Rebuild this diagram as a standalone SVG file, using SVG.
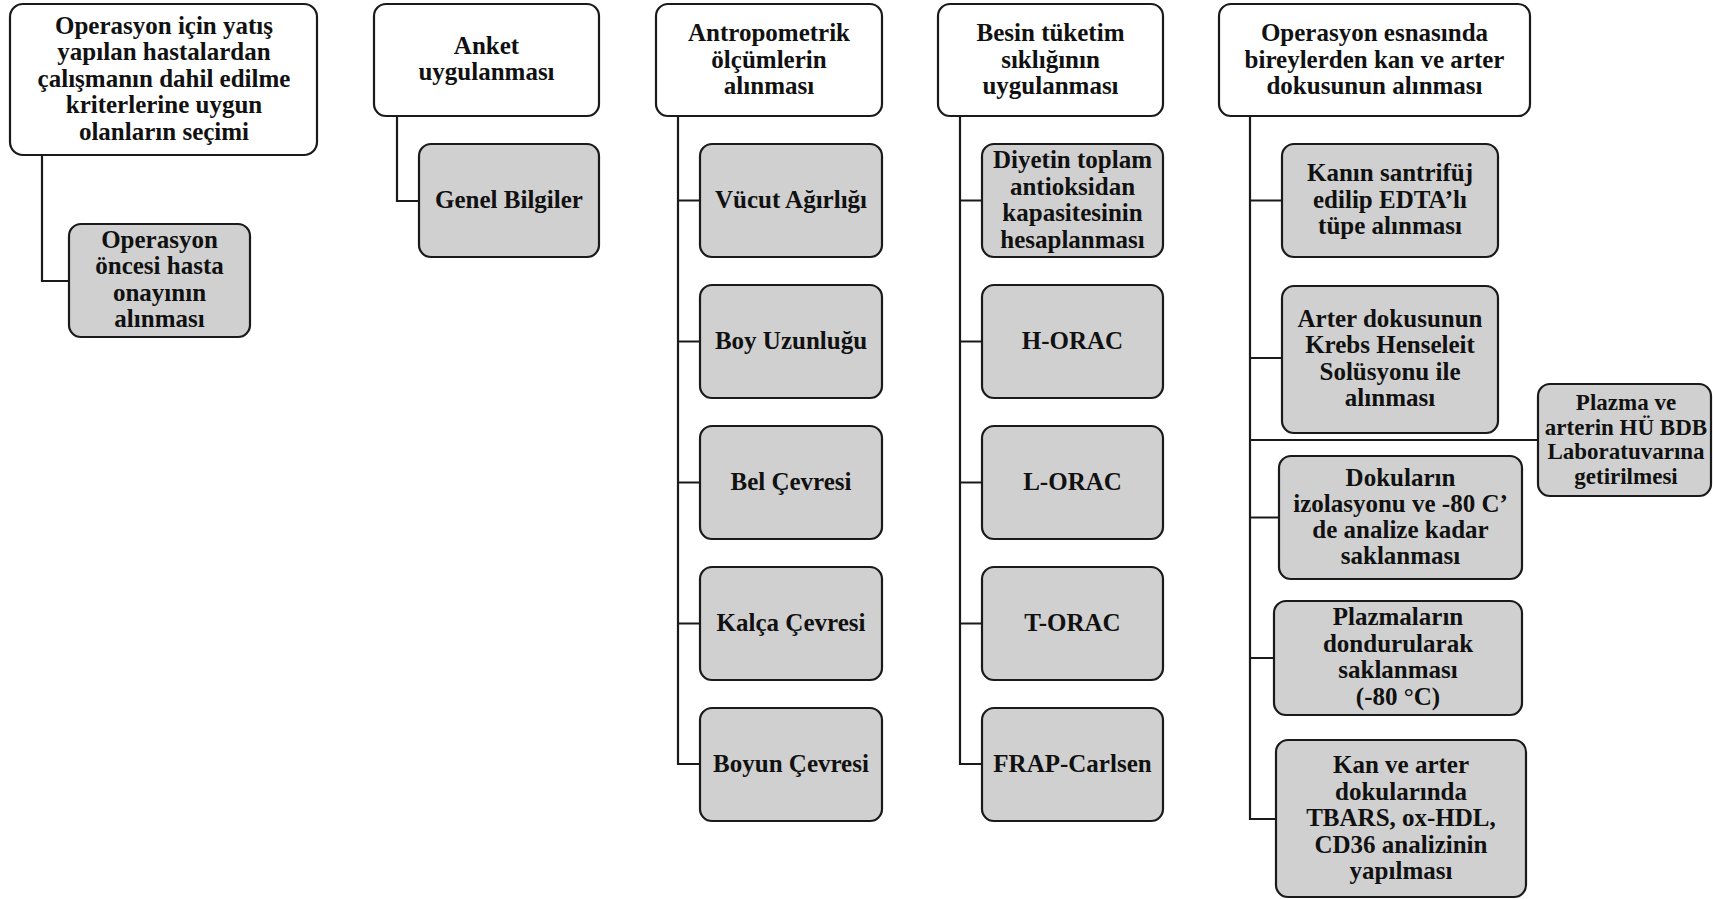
<svg xmlns="http://www.w3.org/2000/svg" width="1713" height="899" viewBox="0 0 1713 899">
<style>
.h{fill:#ffffff;stroke:#1a1a1a;stroke-width:2.2}
.c{fill:#d0d0d0;stroke:#1a1a1a;stroke-width:2.2}
text{font-family:"Liberation Serif","Times New Roman",serif;font-weight:bold;font-size:25px;fill:#111;text-anchor:middle}
.s{font-size:23px}
.ln{fill:none;stroke:#1a1a1a;stroke-width:2.2}
</style>
<rect width="1713" height="899" fill="#ffffff"/>
<g id="connectors">
<path class="ln" d="M42,155 V281 H69"/>
<path class="ln" d="M397,116 V201 H419"/>
<path class="ln" d="M678,116 V764 H700 M678,200.5 H700 M678,341.5 H700 M678,482.5 H700 M678,623.5 H700"/>
<path class="ln" d="M960,116 V764 H982 M960,200.5 H982 M960,341.5 H982 M960,482.5 H982 M960,623.5 H982"/>
<path class="ln" d="M1250,116 V819 H1276 M1250,200.5 H1282 M1250,358 H1282 M1250,440 H1538 M1250,517.5 H1279 M1250,658 H1274"/>
</g>
<g id="n1">
<rect class="h" x="10" y="4" width="307" height="151" rx="13"/>
<text x="164" y="33.5">Operasyon için yatış</text>
<text x="164" y="60">yapılan hastalardan</text>
<text x="164" y="86.5">çalışmanın dahil edilme</text>
<text x="164" y="113">kriterlerine uygun</text>
<text x="164" y="139.5">olanların seçimi</text>
</g>
<g id="n1a">
<rect class="c" x="69" y="224" width="181" height="113" rx="12"/>
<text x="159.5" y="247.5">Operasyon</text>
<text x="159.5" y="274">öncesi hasta</text>
<text x="159.5" y="300.5">onayının</text>
<text x="159.5" y="327">alınması</text>
</g>
<g id="n2">
<rect class="h" x="374" y="4" width="225" height="112" rx="12"/>
<text x="486.5" y="53.8">Anket</text>
<text x="486.5" y="80.3">uygulanması</text>
</g>
<g id="n2a">
<rect class="c" x="419" y="144" width="180" height="113" rx="12"/>
<text x="509" y="207.5">Genel Bilgiler</text>
</g>
<g id="n3">
<rect class="h" x="656" y="4" width="226" height="112" rx="12"/>
<text x="769" y="41">Antropometrik</text>
<text x="769" y="67.5">ölçümlerin</text>
<text x="769" y="94">alınması</text>
</g>
<g id="n3a">
<rect class="c" x="700" y="144" width="182" height="113" rx="12"/>
<text x="791" y="207.5">Vücut Ağırlığı</text>
</g>
<g id="n3b">
<rect class="c" x="700" y="285" width="182" height="113" rx="12"/>
<text x="791" y="348.5">Boy Uzunluğu</text>
</g>
<g id="n3c">
<rect class="c" x="700" y="426" width="182" height="113" rx="12"/>
<text x="791" y="489.5">Bel Çevresi</text>
</g>
<g id="n3d">
<rect class="c" x="700" y="567" width="182" height="113" rx="12"/>
<text x="791" y="630.5">Kalça Çevresi</text>
</g>
<g id="n3e">
<rect class="c" x="700" y="708" width="182" height="113" rx="12"/>
<text x="791" y="771.5">Boyun Çevresi</text>
</g>
<g id="n4">
<rect class="h" x="938" y="4" width="225" height="112" rx="12"/>
<text x="1050.5" y="41">Besin tüketim</text>
<text x="1050.5" y="67.5">sıklığının</text>
<text x="1050.5" y="94">uygulanması</text>
</g>
<g id="n4a">
<rect class="c" x="982" y="144" width="181" height="113" rx="12"/>
<text x="1072.5" y="168.3">Diyetin toplam</text>
<text x="1072.5" y="194.8">antioksidan</text>
<text x="1072.5" y="221.3">kapasitesinin</text>
<text x="1072.5" y="247.8">hesaplanması</text>
</g>
<g id="n4b">
<rect class="c" x="982" y="285" width="181" height="113" rx="12"/>
<text x="1072.5" y="348.5">H-ORAC</text>
</g>
<g id="n4c">
<rect class="c" x="982" y="426" width="181" height="113" rx="12"/>
<text x="1072.5" y="489.5">L-ORAC</text>
</g>
<g id="n4d">
<rect class="c" x="982" y="567" width="181" height="113" rx="12"/>
<text x="1072.5" y="630.5">T-ORAC</text>
</g>
<g id="n4e">
<rect class="c" x="982" y="708" width="181" height="113" rx="12"/>
<text x="1072.5" y="771.5">FRAP-Carlsen</text>
</g>
<g id="n5">
<rect class="h" x="1219" y="4" width="311" height="112" rx="12"/>
<text x="1374.5" y="41">Operasyon esnasında</text>
<text x="1374.5" y="67.5">bireylerden kan ve arter</text>
<text x="1374.5" y="94">dokusunun alınması</text>
</g>
<g id="n5a">
<rect class="c" x="1282" y="144" width="216" height="113" rx="12"/>
<text x="1390" y="181">Kanın santrifüj</text>
<text x="1390" y="207.5">edilip EDTA’lı</text>
<text x="1390" y="234">tüpe alınması</text>
</g>
<g id="n5b">
<rect class="c" x="1282" y="286" width="216" height="147" rx="12"/>
<text x="1390" y="326.8">Arter dokusunun</text>
<text x="1390" y="353.3">Krebs Henseleit</text>
<text x="1390" y="379.8">Solüsyonu ile</text>
<text x="1390" y="406.3">alınması</text>
</g>
<g id="n5f">
<rect class="c" x="1538" y="384" width="173" height="112" rx="12"/>
<text class="s" x="1626" y="410">Plazma ve</text>
<text class="s" x="1626" y="434.5">arterin HÜ BDB</text>
<text class="s" x="1626" y="459">Laboratuvarına</text>
<text class="s" x="1626" y="483.5">getirilmesi</text>
</g>
<g id="n5c">
<rect class="c" x="1279" y="456" width="243" height="123" rx="12"/>
<text x="1400.5" y="485.5">Dokuların</text>
<text x="1400.5" y="511.5">izolasyonu ve -80 C’</text>
<text x="1400.5" y="537.5">de analize kadar</text>
<text x="1400.5" y="563.5">saklanması</text>
</g>
<g id="n5d">
<rect class="c" x="1274" y="601" width="248" height="114" rx="12"/>
<text x="1398" y="625.3">Plazmaların</text>
<text x="1398" y="651.8">dondurularak</text>
<text x="1398" y="678.3">saklanması</text>
<text x="1398" y="704.8">(-80 °C)</text>
</g>
<g id="n5e">
<rect class="c" x="1276" y="740" width="250" height="157" rx="12"/>
<text x="1401" y="773">Kan ve arter</text>
<text x="1401" y="799.5">dokularında</text>
<text x="1401" y="826">TBARS, ox-HDL,</text>
<text x="1401" y="852.5">CD36 analizinin</text>
<text x="1401" y="879">yapılması</text>
</g>
</svg>
